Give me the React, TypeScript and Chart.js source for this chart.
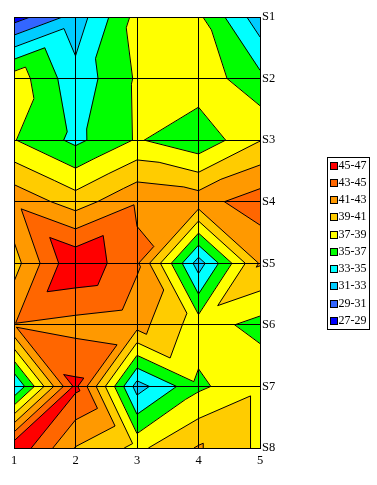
import React, { useEffect, useRef } from 'react';
import { Chart, registerables } from 'chart.js';

Chart.register(...registerables);

// ---- data ----
const xLabels = ['1', '2', '3', '4', '5'];
const seriesNames = ['S1', 'S2', 'S3', 'S4', 'S5', 'S6', 'S7', 'S8'];

const rowS1 = [28.0, 31.8, 37.7, 37.4, 31.8];
const rowS2 = [38.2, 33.7, 37.25, 38.3, 35.5];
const rowS3 = [37.1, 34.5, 37.2, 35.5, 38.9];
const rowS4 = [42.5, 40.0, 42.8, 42.2, 44.1];
const rowS5 = [40.2, 46.8, 43.3, 32.0, 41.2];
const rowS6 = [42.9, 42.3, 41.8, 38.0, 36.3];
const rowS7 = [32.8, 45.5, 32.1, 36.6, 38.6];
const rowS8 = [46.6, 40.9, 38.5, 41.2, 38.6];
const seriesRows = [rowS1, rowS2, rowS3, rowS4, rowS5, rowS6, rowS7, rowS8];

const levels = [27, 29, 31, 33, 35, 37, 39, 41, 43, 45, 47];
const bandLabels = ['27-29', '29-31', '31-33', '33-35', '35-37', '37-39', '39-41', '41-43', '43-45', '45-47'];
const bandColors = ['#0000FF', '#3366FF', '#00CCFF', '#00FFFF', '#00FF00', '#FFFF00', '#FFCC00', '#FF9900', '#FF6600', '#FF0000'];

const FONT = '"Liberation Serif", "Times New Roman", serif';

type P = { x: number; y: number; v: number };

function clip(poly: P[], level: number, keepAbove: boolean): P[] {
  const out: P[] = [];
  const n = poly.length;
  for (let i = 0; i < n; i++) {
    const a = poly[i];
    const b = poly[(i + 1) % n];
    const ina = keepAbove ? a.v >= level : a.v <= level;
    const inb = keepAbove ? b.v >= level : b.v <= level;
    if (ina) out.push(a);
    if (ina !== inb) {
      const t = (level - a.v) / (b.v - a.v);
      out.push({ x: a.x + t * (b.x - a.x), y: a.y + t * (b.y - a.y), v: level });
    }
  }
  return out;
}

function buildTriangles(chart: any): P[][] {
  const xs = chart.scales.x;
  const ys = chart.scales.y;
  const pts: any[] = chart.data.datasets[0].data;
  const nCols = xLabels.length;
  const nRows = seriesNames.length;
  const node = (r: number, c: number): P => {
    const d = pts[r * nCols + c];
    return { x: xs.getPixelForValue(d.x), y: ys.getPixelForValue(d.y), v: d.v };
  };
  const tris: P[][] = [];
  for (let r = 0; r < nRows - 1; r++) {
    for (let c = 0; c < nCols - 1; c++) {
      const TL = node(r, c), TR = node(r, c + 1), BL = node(r + 1, c), BR = node(r + 1, c + 1);
      if (TL.v + BR.v >= TR.v + BL.v) {
        tris.push([TL, TR, BR], [TL, BR, BL]);
      } else {
        tris.push([TL, TR, BL], [TR, BR, BL]);
      }
    }
  }
  return tris;
}

const contourPlugin = {
  id: 'contourFill',
  beforeDraw(chart: any) {
    const ctx = chart.ctx;
    const area = chart.chartArea;
    const tris = buildTriangles(chart);
    ctx.save();
    ctx.beginPath();
    ctx.rect(area.left, area.top, area.right - area.left, area.bottom - area.top);
    ctx.clip();
    for (let k = 0; k < bandColors.length; k++) {
      const lo = k === 0 ? -1e9 : levels[k];
      const hi = k === bandColors.length - 1 ? 1e9 : levels[k + 1];
      ctx.beginPath();
      let any = false;
      for (const tri of tris) {
        let poly = clip(tri, lo, true);
        if (poly.length < 3) continue;
        poly = clip(poly, hi, false);
        if (poly.length < 3) continue;
        any = true;
        ctx.moveTo(poly[0].x, poly[0].y);
        for (let i = 1; i < poly.length; i++) ctx.lineTo(poly[i].x, poly[i].y);
        ctx.closePath();
      }
      if (any) {
        ctx.fillStyle = bandColors[k];
        ctx.fill();
        ctx.strokeStyle = bandColors[k];
        ctx.lineWidth = 0.6;
        ctx.stroke();
      }
    }
    // contour lines
    ctx.beginPath();
    for (const tri of tris) {
      for (let li = 1; li < levels.length - 1; li++) {
        const L = levels[li];
        const seg: { x: number; y: number }[] = [];
        for (let e = 0; e < 3; e++) {
          const a = tri[e], b = tri[(e + 1) % 3];
          if ((a.v < L) !== (b.v < L)) {
            const t = (L - a.v) / (b.v - a.v);
            seg.push({ x: a.x + t * (b.x - a.x), y: a.y + t * (b.y - a.y) });
          }
        }
        if (seg.length === 2) {
          ctx.moveTo(seg[0].x, seg[0].y);
          ctx.lineTo(seg[1].x, seg[1].y);
        }
      }
    }
    ctx.strokeStyle = '#000000';
    ctx.lineWidth = 1;
    ctx.stroke();
    ctx.restore();
  },
};

const legendBoxPlugin = {
  id: 'legendBox',
  afterDraw(chart: any) {
    const ctx = chart.ctx;
    ctx.save();
    const left = 327.5, top = 157.5, width = 42, height = 172;
    ctx.strokeStyle = '#000';
    ctx.lineWidth = 1;
    ctx.strokeRect(left, top, width, height);
    ctx.font = '12px ' + FONT;
    ctx.textBaseline = 'middle';
    ctx.textAlign = 'left';
    for (let i = 0; i < bandLabels.length; i++) {
      const k = bandLabels.length - 1 - i;
      const cy = 165.5 + i * 17.25;
      ctx.fillStyle = bandColors[k];
      ctx.fillRect(331, Math.round(cy) - 3, 6, 6);
      ctx.strokeStyle = '#000';
      ctx.strokeRect(330.5, Math.round(cy) - 3.5, 7, 7);
      ctx.fillStyle = '#000';
      ctx.fillText(bandLabels[k], 338.5, cy);
    }
    ctx.restore();
  },
};

export default function App() {
  const ref = useRef<HTMLCanvasElement | null>(null);
  useEffect(() => {
    document.body.style.margin = '0';
    const canvas = ref.current;
    if (!canvas) return;
    const points: { x: number; y: number; v: number }[] = [];
    seriesRows.forEach((row, r) => {
      row.forEach((v, c) => points.push({ x: c + 1, y: r + 1, v }));
    });
    const chart = new Chart(canvas, {
      type: 'scatter',
      data: {
        datasets: [
          {
            label: 'grid',
            data: points,
            pointRadius: 0,
            pointHoverRadius: 0,
          },
        ],
      },
      options: {
        responsive: false,
        animation: false,
        events: [],
        layout: { padding: { left: 14, top: 17, right: 87, bottom: 0 } },
        plugins: { legend: { display: false }, tooltip: { enabled: false } },
        scales: {
          x: {
            type: 'linear',
            position: 'bottom',
            min: 1,
            max: 5,
            afterFit: (s: any) => {
              s.height = 37;
            },
            ticks: {
              stepSize: 1,
              padding: 5,
              color: '#000',
              font: { family: FONT, size: 12.5 },
              callback: (v: any) => xLabels[Number(v) - 1] ?? '',
            },
            grid: { color: '#000', lineWidth: 1, drawTicks: false, z: 1 },
            border: { color: '#000', width: 1, z: 1 },
          },
          y: {
            type: 'linear',
            position: 'right',
            min: 1,
            max: 8,
            reverse: true,
            afterFit: (s: any) => {
              s.width = 30;
            },
            ticks: {
              stepSize: 1,
              padding: 2,
              color: '#000',
              font: { family: FONT, size: 12.5 },
              callback: (v: any) => seriesNames[Number(v) - 1] ?? '',
            },
            grid: { color: '#000', lineWidth: 1, drawTicks: false, z: 1 },
            border: { color: '#000', width: 1, z: 1 },
          },
        },
      },
      plugins: [contourPlugin, legendBoxPlugin],
    });
    return () => chart.destroy();
  }, []);
  return (
    <div style={{ width: 377, height: 485 }}>
      <canvas ref={ref} width={377} height={485} style={{ display: 'block' }} />
    </div>
  );
}
